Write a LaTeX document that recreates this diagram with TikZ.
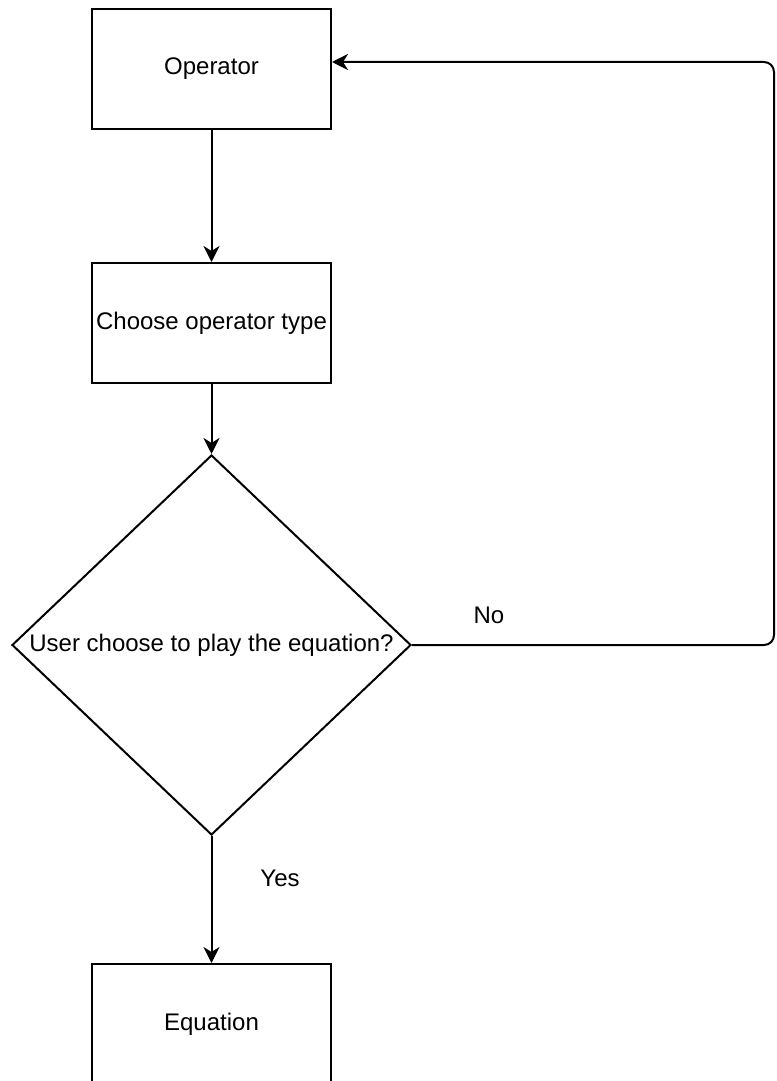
\documentclass[tikz,border=0pt]{standalone}
\usepackage{fontspec}
\setmainfont{Liberation Sans}
\usetikzlibrary{shapes.geometric,arrows.meta}

\tikzset{
  process/.style={draw, line width=1pt, rectangle, minimum width=119.5pt, minimum height=60pt, inner sep=0pt},
  decision/.style={draw, line width=1pt, diamond, minimum width=199.5pt, minimum height=190pt, inner sep=0pt},
  arr/.style={-{Stealth[length=8pt,width=8pt,inset=2.5pt]}, line width=1pt}
}

\begin{document}
\begin{tikzpicture}[x=0.5pt, y=-0.5pt, font=\fontsize{12}{14}\selectfont]
      \useasboundingbox (0,0) rectangle (776,1081);
      \node[process] (op) at (211.5,69) {Operator};
      \node[process] (choose) at (211.5,323) {Choose operator type};
      \node[decision, label=center:{User choose to play the equation?}] (dec) at (211.5,645) {};
      \node[process] (eq) at (211.5,1024) {Equation};
      \draw[arr] (op) -- (choose);
      \draw[arr] (choose) -- (dec);
      \draw[arr] (dec) -- (eq);
      \node (yes) at (280,878) {Yes};
      \coordinate (loop) at (774,645);
      \draw[arr, rounded corners=5pt] (dec.east) -- (loop) |- ([yshift=3.5pt]op.east);
      \node (no) at (489,615) {No};
    \end{tikzpicture}
\end{document}
